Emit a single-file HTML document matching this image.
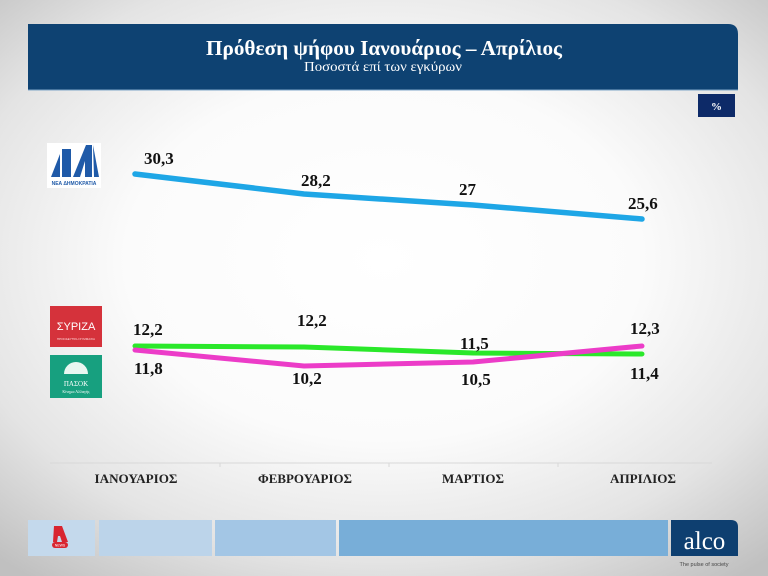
<!DOCTYPE html>
<html>
<head>
<meta charset="utf-8">
<style>
html,body{margin:0;padding:0;}
body{width:768px;height:576px;overflow:hidden;position:relative;font-family:"Liberation Serif",serif;
background:radial-gradient(ellipse 75% 70% at 50% 45%, #ffffff 0%, #fbfbfb 45%, #e4e4e4 75%, #c0c0c0 100%);}
.abs{position:absolute;}
</style>
</head>
<body>
<svg class="abs" style="left:0;top:0" width="768" height="576" viewBox="0 0 768 576" xmlns="http://www.w3.org/2000/svg">
  <!-- header -->
  <path d="M28 24 H728 Q738 24 738 34 V90 H28 Z" fill="#0e4272"/>
  <line x1="28" y1="90" x2="738" y2="90" stroke="#7fa6c8" stroke-width="1"/>
  <text x="384" y="55" text-anchor="middle" font-family="Liberation Serif, serif" font-weight="bold" font-size="21" textLength="356" lengthAdjust="spacingAndGlyphs" fill="#ffffff">Πρόθεση ψήφου Ιανουάριος – Απρίλιος</text>
  <text x="383" y="71" text-anchor="middle" font-family="Liberation Serif, serif" font-size="14" textLength="158" lengthAdjust="spacingAndGlyphs" fill="#ffffff">Ποσοστά επί των εγκύρων</text>
  <!-- percent box -->
  <rect x="698" y="94" width="37" height="23" fill="#0d2a68"/>
  <text x="716.5" y="110" text-anchor="middle" font-family="Liberation Serif, serif" font-weight="bold" font-size="11" fill="#ffffff">%</text>

  <!-- ND logo -->
  <rect x="47" y="143" width="54" height="45" fill="#ffffff"/>
  <polygon points="51,177 60,154 60,177" fill="#1f5aa8"/>
  <polygon points="62,149 71,149 71,177 62,177" fill="#1f5aa8"/>
  <polygon points="73,177 86,145 92,145 92,177 85,177 85,161 80,177" fill="#1f5aa8"/>
  <polygon points="93,145 99,177 94,177" fill="#1f5aa8"/>
  <text x="74" y="185" text-anchor="middle" font-family="Liberation Sans, sans-serif" font-size="5" font-weight="bold" fill="#1f5aa8">ΝΕΑ ΔΗΜΟΚΡΑΤΙΑ</text>

  <!-- SYRIZA logo -->
  <rect x="50" y="306" width="52" height="41" fill="#d5323b"/>
  <text x="76" y="330" text-anchor="middle" font-family="Liberation Sans, sans-serif" font-size="11" fill="#ffffff">ΣΥΡΙΖΑ</text>
  <text x="76" y="340" text-anchor="middle" font-family="Liberation Sans, sans-serif" font-size="3" fill="#ffdddd">ΠΡΟΟΔΕΥΤΙΚΗ ΣΥΜΜΑΧΙΑ</text>
  <!-- PASOK logo -->
  <rect x="50" y="355" width="52" height="43" fill="#17a07f"/>
  <path d="M64 374 A12 12 0 0 1 88 374 Z" fill="#e8f7f1"/>
  <text x="76" y="386" text-anchor="middle" font-family="Liberation Serif, serif" font-size="7" fill="#ffffff">ΠΑΣΟΚ</text>
  <text x="76" y="393" text-anchor="middle" font-family="Liberation Serif, serif" font-size="4" fill="#ffffff">Κίνημα Αλλαγής</text>

  <!-- axis -->
  <line x1="50" y1="463" x2="712" y2="463" stroke="#d8d8d8" stroke-width="1"/>
  <line x1="220" y1="463" x2="220" y2="467" stroke="#d8d8d8" stroke-width="1"/>
  <line x1="389" y1="463" x2="389" y2="467" stroke="#d8d8d8" stroke-width="1"/>
  <line x1="558" y1="463" x2="558" y2="467" stroke="#d8d8d8" stroke-width="1"/>
  <g font-family="Liberation Serif, serif" font-weight="bold" font-size="13" fill="#222" text-anchor="middle">
    <text x="136" y="483" textLength="83" lengthAdjust="spacingAndGlyphs">ΙΑΝΟΥΑΡΙΟΣ</text>
    <text x="305" y="483" textLength="94" lengthAdjust="spacingAndGlyphs">ΦΕΒΡΟΥΑΡΙΟΣ</text>
    <text x="473" y="483" textLength="62" lengthAdjust="spacingAndGlyphs">ΜΑΡΤΙΟΣ</text>
    <text x="643" y="483" textLength="66" lengthAdjust="spacingAndGlyphs">ΑΠΡΙΛΙΟΣ</text>
  </g>

  <!-- series -->
  <polyline points="135,174 304,194 473,205 642,219" fill="none" stroke="#1ea6e6" stroke-width="5.5" stroke-linecap="round" stroke-linejoin="round"/>
  <polyline points="135,346 304,347 473,353 642,354" fill="none" stroke="#2ae82a" stroke-width="5" stroke-linecap="round" stroke-linejoin="round"/>
  <polyline points="135,350 304,366 473,362 642,346" fill="none" stroke="#ec3cc8" stroke-width="5" stroke-linecap="round" stroke-linejoin="round"/>

  <!-- labels -->
  <g font-family="Liberation Serif, serif" font-weight="bold" font-size="17" fill="#111">
    <text x="144" y="164">30,3</text>
    <text x="301" y="186">28,2</text>
    <text x="459" y="195">27</text>
    <text x="628" y="209">25,6</text>

    <text x="133" y="335">12,2</text>
    <text x="297" y="326">12,2</text>
    <text x="460" y="349">11,5</text>
    <text x="630" y="334">12,3</text>

    <text x="134" y="374">11,8</text>
    <text x="292" y="384">10,2</text>
    <text x="461" y="385">10,5</text>
    <text x="630" y="379">11,4</text>
  </g>

  <!-- footer -->
  <rect x="28" y="520" width="67" height="36" fill="#c4d9ec"/>
  <rect x="99" y="520" width="113" height="36" fill="#bcd4ea"/>
  <rect x="215" y="520" width="121" height="36" fill="#a3c6e5"/>
  <rect x="339" y="520" width="329" height="36" fill="#78aed8"/>
  <path d="M671 520 H731 Q738 520 738 527 V556 H671 Z" fill="#0e3f70"/>
  <text x="704.5" y="549" text-anchor="middle" font-family="Liberation Serif, serif" font-size="25" fill="#ffffff">alco</text>
  <text x="704" y="566" text-anchor="middle" font-family="Liberation Sans, sans-serif" font-size="5.5" fill="#444">The pulse of society</text>
  <!-- Alpha logo -->
  <polygon points="54,526 62,526 68,542 62,542 60,536 58,536 57,542 53,542" fill="#d82530"/>
  <rect x="52" y="542" width="16" height="6" rx="3" fill="#d82530"/>
  <text x="60" y="546.7" text-anchor="middle" font-family="Liberation Sans, sans-serif" font-size="3.5" fill="#ffffff">NEWS</text>
</svg>
</body>
</html>
